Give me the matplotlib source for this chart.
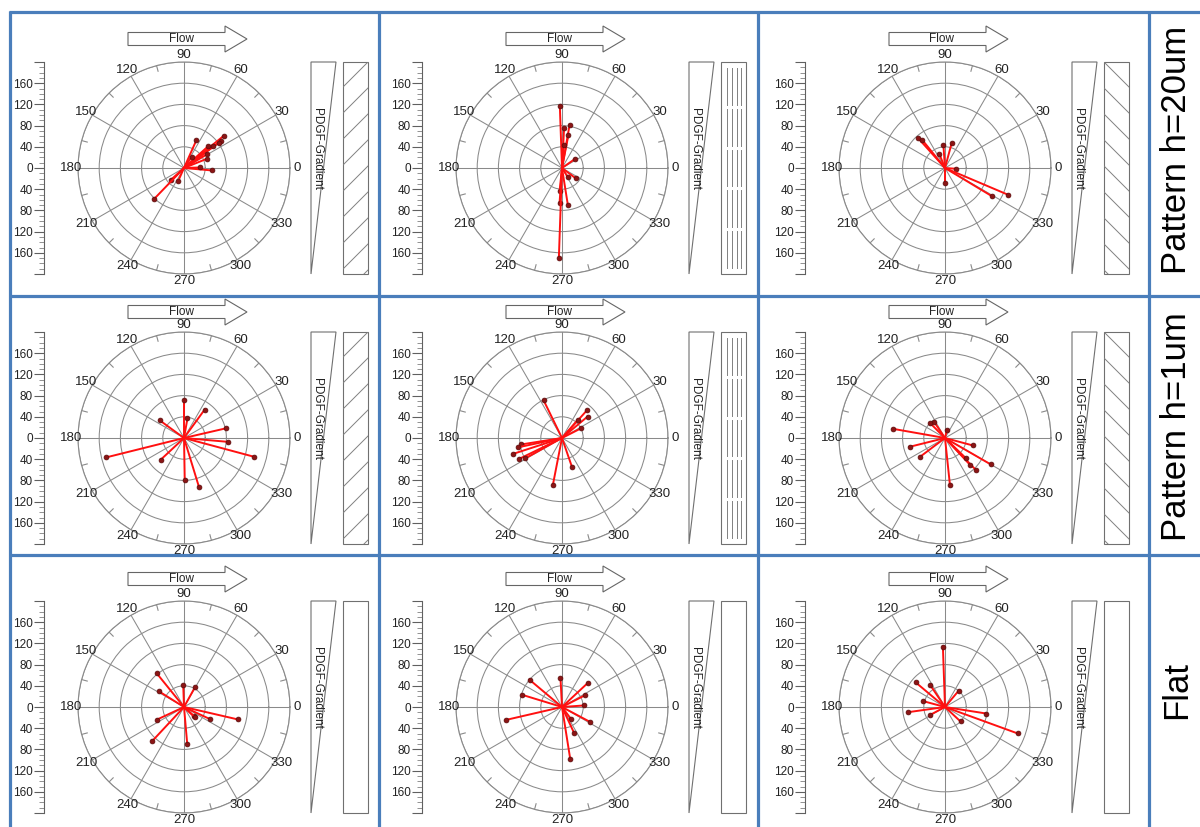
import numpy as np
import matplotlib
matplotlib.use("Agg")
import matplotlib.pyplot as plt
from matplotlib.patches import Polygon, Rectangle
from matplotlib.ticker import MultipleLocator

plt.rcParams['font.family'] = ['Liberation Sans', 'DejaVu Sans']

# vector directions (deg) and magnitudes
h20_c1_ang = [66, 39, 36, 36, 37, 42, 31, 22, 55, 355, 2, 246, 222, 226]
h20_c1_mag = [57, 96, 87, 81, 69, 62, 50, 46, 26, 53, 30, 26, 33, 81]
h20_c2_ang = [92, 87, 80, 79, 86, 35, 323, 303, 264, 266, 279, 268]
h20_c2_mag = [117, 76, 83, 64, 43, 30, 32, 21, 43, 67, 71, 170]
h20_c3_ang = [132, 129, 112, 94, 75, 356, 337, 329, 270]
h20_c3_mag = [77, 69, 28, 44, 49, 21, 130, 103, 28]

h1_c1_ang = [90, 54, 80, 144, 13, 355, 345, 194, 223, 271, 287]
h1_c1_mag = [71, 66, 38, 57, 81, 83, 137, 151, 60, 79, 96]
h1_c2_ang = [116, 48, 40, 49, 27, 189, 192, 198, 206, 209, 289, 259]
h1_c2_mag = [79, 70, 63, 45, 40, 78, 85, 98, 90, 79, 58, 91]
h1_c3_ang = [170, 124, 135, 77, 194, 217, 345, 330, 314, 313, 316, 276]
h1_c3_mag = [100, 37, 39, 15, 69, 59, 54, 100, 83, 70, 55, 89]

flat_c1_ang = [129, 148, 92, 61, 205, 227, 275, 316, 318, 335, 347]
flat_c1_mag = [82, 56, 41, 43, 56, 88, 70, 25, 28, 55, 104]
flat_c2_ang = [140, 163, 93, 43, 27, 4, 193, 332, 307, 295, 279]
flat_c2_mag = [80, 78, 55, 67, 49, 41, 109, 60, 29, 55, 99]
flat_c3_ang = [92, 140, 124, 50, 165, 188, 208, 351, 340, 317]
flat_c3_mag = [114, 72, 50, 40, 42, 71, 32, 79, 146, 40]

panels = [[(h20_c1_ang, h20_c1_mag), (h20_c2_ang, h20_c2_mag), (h20_c3_ang, h20_c3_mag)],
          [(h1_c1_ang, h1_c1_mag), (h1_c2_ang, h1_c2_mag), (h1_c3_ang, h1_c3_mag)],
          [(flat_c1_ang, flat_c1_mag), (flat_c2_ang, flat_c2_mag), (flat_c3_ang, flat_c3_mag)]]

row_labels = ["Pattern h=20um", "Pattern h=1um", "Flat"]
patterns = [["/", "|", "\\"], ["/", "|", "\\"], ["", "", ""]]
theta_labels = list(range(0, 360, 30))
rings = [40, 80, 120, 160, 200]
scale_ticks = [-200, -160, -120, -80, -40, 0, 40, 80, 120, 160, 200]

# layout in pixels
W, H = 1200, 827
col_cx = [184, 562, 945]
row_cy = [168, 438, 707]
arrow_dy = [-129, -126, -128]
label_y = [150, 427, 690]
R = 106
grey = '#8a8a8a'
blue = '#4a7ebb'


def box(x, y, w, h):
    return [x / W, 1 - (y + h) / H, w / W, h / H]


fig = plt.figure(figsize=(12, 8.27), dpi=100)
ov = fig.add_axes([0, 0, 1, 1])
ov.set_xlim(0, W)
ov.set_ylim(H, 0)
ov.axis('off')

# blue frame
for y in [12, 296, 555]:
    ov.plot([9, W], [y, y], color=blue, lw=2.3, solid_capstyle='butt')
for x in [10, 379, 758, 1149]:
    ov.plot([x, x], [11, H], color=blue, lw=2.3, solid_capstyle='butt')

for i, lab in enumerate(row_labels):
    ov.text(1177, label_y[i], lab, rotation=90, ha='center', va='center',
            fontsize=25, color='black')

for i in range(3):
    for j in range(3):
        cx, cy = col_cx[j], row_cy[i]
        ang, mag = panels[i][j]

        # polar plot
        pax = fig.add_axes(box(cx - R, cy - R, 2 * R, 2 * R), projection='polar')
        pax.set_facecolor('none')
        pax.set_ylim(0, 200)
        pax.set_yticks(rings)
        pax.set_yticklabels([])
        pax.set_xticks(np.deg2rad(theta_labels))
        pax.set_xticklabels([])
        pax.tick_params(length=0)
        pax.grid(color=grey, lw=0.75)
        pax.spines['polar'].set_color(grey)
        pax.spines['polar'].set_linewidth(0.8)
        for a in theta_labels:
            pax.text(np.deg2rad(a), 213, str(a), ha='center', va='center',
                     fontsize=9.5, color='#222222')
        for a in range(15, 360, 30):
            pax.plot([np.deg2rad(a)] * 2, [189, 200], color=grey, lw=0.8)
        for a, m in zip(ang, mag):
            t = np.deg2rad(a)
            pax.plot([t, t], [0, m], color='#ff1010', lw=1.4)
            pax.plot(t, m, 'o', ms=3.5, color='#8b1515', mec='#5a0a0a', mew=0.5)

        # magnitude scale on the left
        sax = fig.add_axes(box(cx - 140, cy - R, 1, 2 * R))
        sax.set_facecolor('none')
        sax.set_ylim(-200, 200)
        sax.set_xticks([])
        for s in ['top', 'right', 'bottom']:
            sax.spines[s].set_visible(False)
        sax.spines['left'].set_color('#606060')
        sax.spines['left'].set_linewidth(0.8)
        sax.set_yticks(scale_ticks)
        sax.set_yticklabels(['' if abs(v) == 200 else str(abs(v)) for v in scale_ticks])
        sax.yaxis.set_minor_locator(MultipleLocator(10))
        sax.tick_params(which='major', direction='out', length=7, width=0.8,
                        color='#606060', labelsize=8.5, labelcolor='#222222', pad=1)
        sax.tick_params(which='minor', direction='out', length=3.5, width=0.6,
                        color='#808080')

        # flow arrow
        ay = cy + arrow_dy[i]
        pts = [(cx - 56, ay - 6.5), (cx + 41, ay - 6.5), (cx + 41, ay - 13), (cx + 63, ay),
               (cx + 41, ay + 13), (cx + 41, ay + 6.5), (cx - 56, ay + 6.5)]
        ov.add_patch(Polygon(pts, closed=True, fc='white', ec='#666666', lw=0.8))
        ov.text(cx - 3, ay, "Flow", ha='center', va='center', fontsize=8.5, color='#222222')

        # gradient wedge
        wx = cx + 127
        ov.add_patch(Polygon([(wx, cy - R), (wx + 25, cy - R), (wx, cy + R)], closed=True,
                             fc='none', ec='#707070', lw=0.8))
        ov.text(wx + 6, cy - 19, "PDGF-Gradient", rotation=-90, ha='center', va='center',
                fontsize=8.5, color='#222222')

        # surface pattern box
        bx = cx + 159
        rect = Rectangle((bx, cy - R), 25, 2 * R, fc='none', ec='#707070', lw=0.8)
        ov.add_patch(rect)
        p = patterns[i][j]
        if p in ('/', '\\'):
            for k in range(-2, 12):
                y0 = cy - R + k * 26
                if p == '/':
                    ln, = ov.plot([bx, bx + 25], [y0 + 25, y0], color='#808080', lw=0.7)
                else:
                    ln, = ov.plot([bx, bx + 25], [y0, y0 + 25], color='#808080', lw=0.7)
                ln.set_clip_path(rect)
        elif p == '|':
            top, bot = cy - R + 6, cy + R - 6
            seg = (bot - top - 4 * 4) / 5
            for xo in [6, 11, 15.5, 20]:
                for k in range(5):
                    s0 = top + k * (seg + 4)
                    ov.plot([bx + xo, bx + xo], [s0, s0 + seg], color='#808080', lw=0.7)

fig.savefig('out.png', dpi=100)
